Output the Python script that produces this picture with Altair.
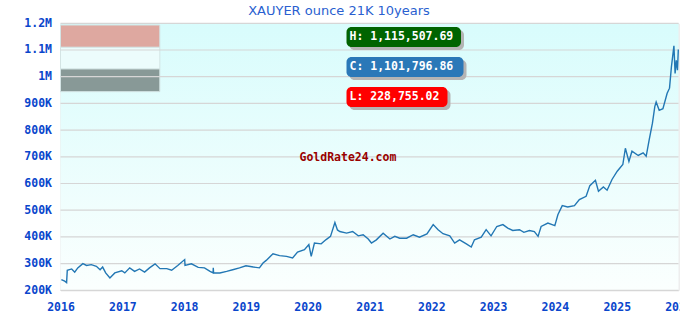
import altair as alt
import pandas as pd

# ---- data ----
dates = [
    "2016-01-06", "2016-01-26", "2016-02-06", "2016-02-10", "2016-03-07", "2016-03-25",
    "2016-04-12", "2016-05-12", "2016-06-03", "2016-07-01", "2016-07-31", "2016-08-22",
    "2016-09-06", "2016-09-24", "2016-10-19", "2016-11-17", "2016-12-28",
    "2017-01-15", "2017-02-13", "2017-03-14", "2017-04-12", "2017-05-12", "2017-06-10",
    "2017-07-13", "2017-08-11", "2017-09-20", "2017-10-19", "2017-11-24",
    "2018-01-04", "2018-01-06", "2018-02-13", "2018-03-25", "2018-05-01", "2018-06-03",
    "2018-06-21", "2018-06-22", "2018-06-24", "2018-07-31", "2018-09-09", "2018-10-15",
    "2018-11-24",
    "2019-01-01", "2019-02-14", "2019-03-22", "2019-04-12", "2019-05-01", "2019-06-10",
    "2019-07-19", "2019-08-29", "2019-10-04", "2019-11-02", "2019-12-13",
    "2020-01-08", "2020-01-22", "2020-02-10", "2020-03-21", "2020-04-19", "2020-05-15",
    "2020-06-10", "2020-06-25", "2020-07-09", "2020-08-18", "2020-09-23", "2020-10-26",
    "2020-11-24", "2020-12-24",
    "2021-01-12", "2021-02-10", "2021-03-22", "2021-05-01", "2021-05-30", "2021-06-28",
    "2021-08-08", "2021-09-16", "2021-10-23", "2021-12-06",
    "2022-01-12", "2022-02-10", "2022-03-11", "2022-04-20", "2022-05-19", "2022-06-17",
    "2022-07-27", "2022-08-25", "2022-09-13", "2022-10-23", "2022-11-21", "2022-12-20",
    "2023-01-23", "2023-02-28", "2023-03-29", "2023-04-27", "2023-06-06", "2023-07-02",
    "2023-08-04", "2023-09-02", "2023-09-24", "2023-10-12", "2023-11-21",
    "2024-01-01", "2024-01-19", "2024-02-14", "2024-03-17", "2024-04-26", "2024-05-25",
    "2024-07-04", "2024-07-26", "2024-08-28", "2024-09-15", "2024-10-14", "2024-11-05",
    "2024-12-04",
    "2025-01-04", "2025-02-06", "2025-02-21", "2025-03-14", "2025-04-01", "2025-05-08",
    "2025-06-06", "2025-06-24", "2025-07-12", "2025-07-31", "2025-08-14", "2025-08-22",
    "2025-09-09", "2025-10-01", "2025-10-26", "2025-11-09", "2025-11-20", "2025-12-05",
    "2025-12-12", "2025-12-19", "2025-12-26", "2025-12-31",
]
prices = [
    240000, 234000, 228755, 275000, 280000, 268000,
    284000, 300000, 293000, 296000, 290000, 277000,
    287000, 265000, 246000, 265000, 273000,
    265000, 284000, 271000, 280000, 268000, 284000,
    299000, 281000, 281000, 275000, 293000,
    315000, 293000, 299000, 286000, 284000, 271000,
    265000, 284000, 265000, 265000, 271000, 277000,
    284000,
    292000, 287000, 284000, 302000, 312000, 337000,
    330000, 327000, 321000, 343000, 352000,
    371000, 327000, 377000, 374000, 390000, 402000,
    454000, 426000, 420000, 414000, 420000, 404000,
    408000, 392000,
    377000, 389000, 414000, 392000, 402000, 395000,
    395000, 408000, 399000, 411000,
    446000, 427000, 412000, 404000, 377000, 389000,
    374000, 362000, 389000, 399000, 427000, 404000,
    439000, 446000, 433000, 424000, 427000, 417000,
    424000, 420000, 402000, 439000, 452000,
    442000, 483000, 517000, 512000, 517000, 540000,
    552000, 592000, 612000, 571000, 587000, 575000,
    615000,
    646000, 671000, 732000, 683000, 721000, 705000,
    715000, 702000, 764000, 826000, 888000, 905000,
    874000, 880000, 938000, 957000, 1036000, 1115507.69,
    1012000, 1061000, 1024000, 1101796.86,
]

y_ticks = [200000, 300000, 400000, 500000, 600000, 700000, 800000, 900000,
           1000000, 1100000, 1200000]

title_text = "XAUYER ounce 21K 10years"
badge_texts = ["H: 1,115,507.69", "C: 1,101,796.86", "L: 228,755.02"]
badge_colors = ["#006400", "#2a78b8", "#ff0000"]
watermark = "GoldRate24.com"

# decorative blocks at the top left (data coordinates)
block_x = ["2016-01-01", "2016-01-01", "2016-01-01"]
block_x2 = ["2017-08-10", "2017-08-10", "2017-08-10"]
block_y = [1110000, 1029000, 944000]
block_y2 = [1193500, 1110000, 1029000]
block_colors = ["#dea8a0", "#ecfcfc", "#889997"]

W, H = 618, 267
AXIS_COLOR = "#0a46cc"
MONO = "DejaVu Sans Mono"

df = pd.DataFrame({"date": pd.to_datetime(dates), "price": prices})
blocks = pd.DataFrame({"x": pd.to_datetime(block_x), "x2": pd.to_datetime(block_x2),
                       "y": block_y, "y2": block_y2, "c": block_colors})
grid_df = pd.DataFrame({"v": y_ticks})

x_scale = alt.Scale(domain=[pd.Timestamp("2016-01-01").isoformat(), pd.Timestamp("2026-01-01").isoformat()])
y_scale = alt.Scale(domain=[200000, 1200000])

x_axis = alt.Axis(title=None, format="%Y", tickCount={"interval": "year", "step": 1},
                  grid=False, ticks=False, domain=False, labelOverlap=False,
                  labelFont=MONO, labelFontWeight="bold", labelFontSize=11.5,
                  labelColor=AXIS_COLOR, labelPadding=11, labelFlush=False)
y_axis = alt.Axis(title=None, values=y_ticks, labelOverlap=False,
                  labelExpr="datum.value >= 1000000 ? format(datum.value/1000000, '~g') + 'M' : format(datum.value/1000, 'd') + 'K'",
                  grid=False, ticks=False, domain=False,
                  labelFont=MONO, labelFontWeight="bold", labelFontSize=11.5,
                  labelColor=AXIS_COLOR, labelPadding=9)

bg = alt.Chart(alt.Data(values=[{}])).mark_rect(
    fill=alt.LinearGradient(
        gradient="linear",
        stops=[alt.GradientStop(color="#d8fcfc", offset=0),
               alt.GradientStop(color="#fbfffe", offset=1)],
        x1=0, x2=0, y1=0, y2=1),
).encode(x=alt.value(0), x2=alt.value(W), y=alt.value(0), y2=alt.value(H))

blk = alt.Chart(blocks).mark_rect(stroke="#d4e4e4", strokeWidth=1).encode(
    x=alt.X("x:T", scale=x_scale, axis=x_axis),
    x2="x2:T",
    y=alt.Y("y:Q", scale=y_scale, axis=y_axis),
    y2="y2:Q",
    fill=alt.Color("c:N", scale=None),
)

grid = alt.Chart(grid_df).mark_rule(color="#d6d6d6", strokeWidth=1.2).encode(
    y=alt.Y("v:Q", scale=y_scale, axis=y_axis), x=alt.value(0), x2=alt.value(W))

line = alt.Chart(df).mark_line(color="#2277b4", strokeWidth=1.4).encode(
    x=alt.X("date:T", scale=x_scale, axis=x_axis),
    y=alt.Y("price:Q", scale=y_scale, axis=y_axis),
)

badge_layers = []
for i in range(3):
    row = alt.Data(values=[{"t": badge_texts[i]}])
    x0 = 286
    x1 = [400.5, 403, 387][i]
    y0 = 3.7 + 30 * i
    shadow = alt.Chart(row).mark_rect(color="#b4b4b4", cornerRadius=5).encode(
        x=alt.value(x0 + 3), x2=alt.value(x1 + 3), y=alt.value(y0 + 3), y2=alt.value(y0 + 23))
    box = alt.Chart(row).mark_rect(color=badge_colors[i], cornerRadius=5).encode(
        x=alt.value(x0), x2=alt.value(x1), y=alt.value(y0), y2=alt.value(y0 + 20))
    txt = alt.Chart(row).mark_text(font=MONO, fontWeight="bold", fontSize=11.5, color="white",
                                   align="left", baseline="middle").encode(
        x=alt.value(x0 + 3), y=alt.value(y0 + 10.5), text="t:N")
    badge_layers += [shadow, box, txt]

wm = alt.Chart(alt.Data(values=[{"t": watermark}])).mark_text(
    font=MONO, fontWeight="bold", fontSize=11.5, color="#990000", align="left", baseline="middle"
).encode(x=alt.value(239), y=alt.value(135), text="t:N")

title = alt.Chart(alt.Data(values=[{"t": title_text}])).mark_text(
    font="DejaVu Sans", fontSize=13, color="#2a5fd0", align="center", baseline="alphabetic"
).encode(x=alt.value(278.5), y=alt.value(-8.3), text="t:N")

chart = alt.layer(bg, blk, grid, line, *badge_layers, wm, title).properties(
    width=W, height=H,
    autosize=alt.AutoSizeParams(type="none"),
    padding={"left": 60.5, "top": 23.3, "right": 1.5, "bottom": 29.4},
).configure_view(stroke="#cccccc", strokeWidth=1.5).configure(background="white")

chart.save("out.html", embed_options={"renderer": "svg", "actions": False})
